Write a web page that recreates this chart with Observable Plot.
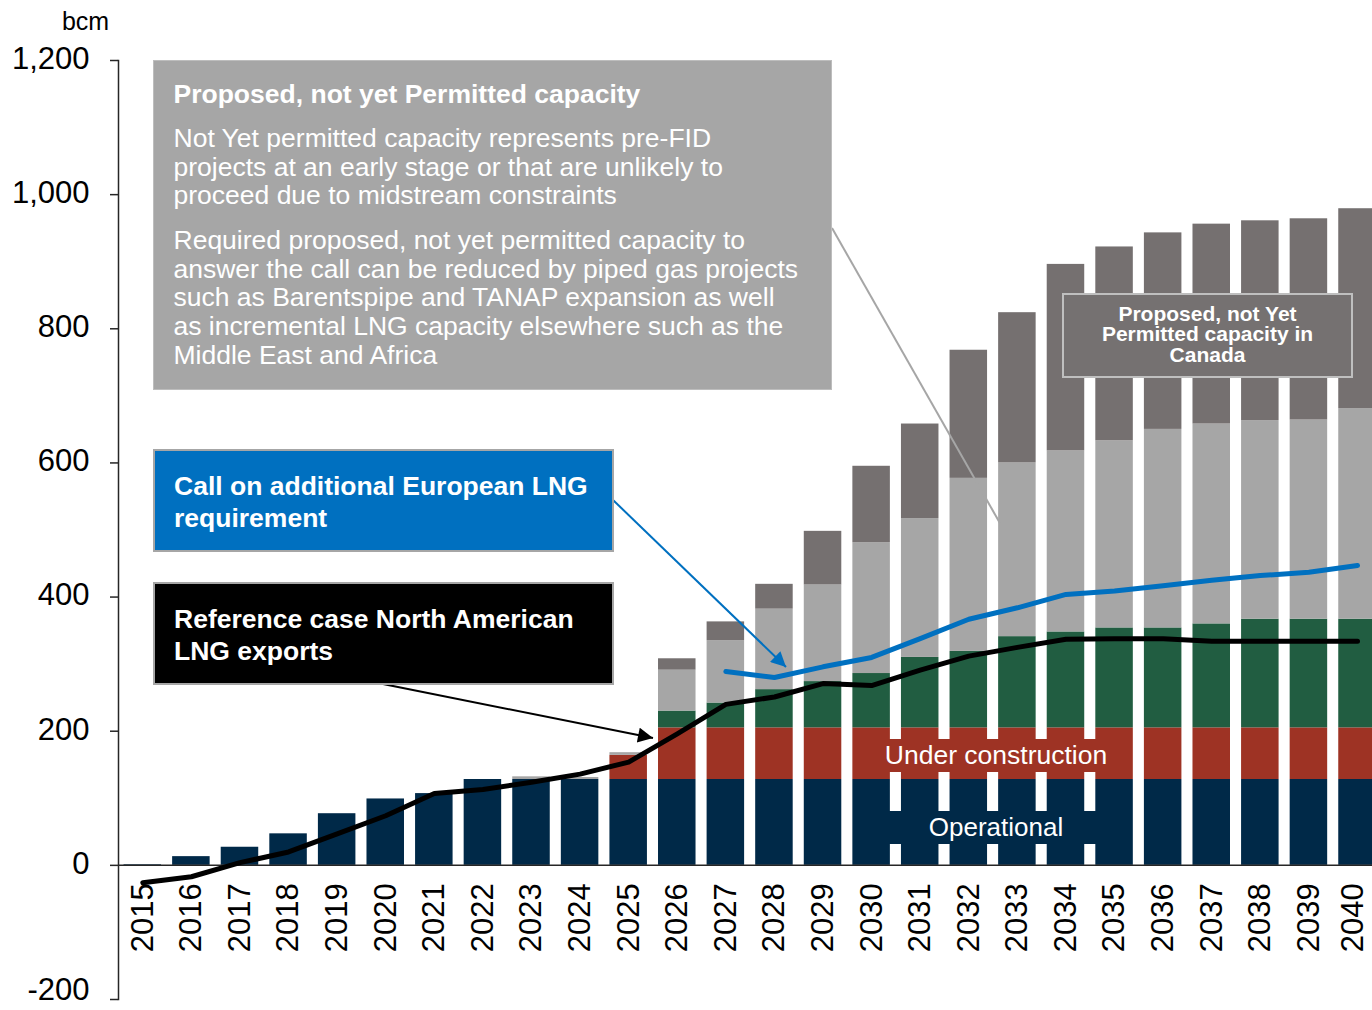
<!DOCTYPE html>
<html>
<head>
<meta charset="utf-8">
<script src="https://cdn.jsdelivr.net/npm/d3@7"></script>
<script src="https://cdn.jsdelivr.net/npm/@observablehq/plot@0.6"></script>
<style>
  html, body { margin: 0; padding: 0; background: #fff; overflow: hidden; }
  #wrap { position: relative; width: 1372px; height: 1010px; font-family: "Liberation Sans", Arial, sans-serif; overflow: hidden; }
  #wrap svg.overlay { position: absolute; left: 0; top: 0; pointer-events: none; }
  .box { position: absolute; box-sizing: border-box; color: #fff; white-space: nowrap; }
  .box .t { position: absolute; }
</style>
</head>
<body>
<div id="wrap"></div>
<script>
// ---------- data (bcm) ----------
const years = [2015, 2016, 2017, 2018, 2019, 2020, 2021, 2022, 2023, 2024, 2025, 2026, 2027,
               2028, 2029, 2030, 2031, 2032, 2033, 2034, 2035, 2036, 2037, 2038, 2039, 2040];
const seriesNames = ["Operational", "Under construction", "Permitted",
                     "Proposed, not yet Permitted", "Proposed, not yet Permitted (Canada)"];
const seriesColors = ["#002948", "#9E3324", "#215D41", "#A6A6A6", "#757070"];

const operational       = [1, 13, 27, 47, 77, 99, 107, 128, 128, 128, 128, 128, 128,
                           128, 128, 128, 128, 128, 128, 128, 128, 128, 128, 128, 128, 128];
const underConstruction = [0, 0, 0, 0, 0, 0, 0, 0, 0, 0, 36, 77, 77,
                           77, 77, 77, 77, 77, 77, 77, 77, 77, 77, 77, 77, 77];
const permitted         = [0, 0, 0, 0, 0, 0, 0, 0, 0, 0, 0, 25, 37,
                           57, 69, 81, 105, 114, 136, 143, 149, 149, 155, 162, 162, 162];
const proposed          = [0, 0, 0, 0, 0, 0, 0, 0, 4, 3, 4, 61, 93,
                           120, 144, 195, 207, 258, 259, 270, 279, 296, 298, 296, 297, 314];
const proposedCanada    = [0, 0, 0, 0, 0, 0, 0, 0, 0, 0, 0, 17, 28,
                           37, 80, 114, 141, 191, 224, 278, 289, 293, 298, 298, 300, 298];

const refExports = [-26, -17, 4, 20, 47, 74, 107, 113, 124, 136, 154, 196, 240,
                    251, 271, 268, 291, 312, 325, 337, 338, 338, 334, 334, 334, 334];
const callYears  = [2027, 2028, 2029, 2030, 2031, 2032, 2033, 2034, 2035, 2036, 2037, 2038, 2039, 2040];
const callValues = [289, 280, 296, 310, 338, 367, 384, 404, 409, 417, 425, 432, 437, 447];

const yTicks = [-200, 0, 200, 400, 600, 800, 1000, 1200];

// ---------- tables built from the arrays ----------
const seriesValues = [operational, underConstruction, permitted, proposed, proposedCanada];
const stacked = [];
years.forEach((yr, i) => {
  seriesNames.forEach((s, k) => stacked.push({year: yr, series: s, value: seriesValues[k][i]}));
});
const refTable  = years.map((yr, i) => ({year: yr, value: refExports[i]}));
const callTable = callYears.map((yr, i) => ({year: yr, value: callValues[i]}));
const lastYear = years[years.length - 1];
const minTick = yTicks[0];

// ---------- chart ----------
const yLabel = (data, dy) => Plot.text(data, {
  y: d => d,
  text: d => d.toLocaleString("en-US"),
  frameAnchor: "left",
  textAnchor: "end",
  dx: -29,
  dy,
  fontSize: 31,
  fill: "#000"
});
const yearLabel = (data, dx) => Plot.text(data, {
  x: d => d, y: 0, text: d => String(d), rotate: -90, textAnchor: "end", dy: 18, dx, fontSize: 31, fill: "#000"
});

const chart = Plot.plot({
  width: 1372,
  height: 1010,
  marginLeft: 118,
  marginRight: 0,
  marginTop: 60,
  marginBottom: 11,
  style: {fontFamily: '"Liberation Sans", Arial, sans-serif', color: "#000", background: "transparent", overflow: "visible"},
  x: {type: "band", domain: years, range: [118, 1381.3], paddingInner: 0.228, paddingOuter: 0.114, round: false, axis: null},
  y: {domain: [-200, 1200], axis: null},
  color: {domain: seriesNames, range: seriesColors},
  marks: [
    Plot.barY(stacked, {x: "year", y: "value", fill: "series", order: seriesNames}),
    Plot.ruleY([0], {stroke: "#262626", strokeWidth: 1.5}),
    Plot.frame({anchor: "left", stroke: "#262626", strokeWidth: 1.5}),
    Plot.axisY({ticks: yTicks, tickSize: 8, text: null, label: null, stroke: "#262626", strokeWidth: 1.5}),
    yLabel(yTicks.filter(d => d !== minTick), -1.5),
    yLabel([minTick], -9),
    Plot.text(["bcm"], {frameAnchor: "top-left", dx: -33, dy: -39, fontSize: 25, textAnchor: "middle", lineAnchor: "middle", fill: "#000"}),
    yearLabel(years.filter(d => d !== lastYear), 0),
    yearLabel([lastYear], -4),
    Plot.line(callTable, {x: "year", y: "value", stroke: "#0070C0", strokeWidth: 5}),
    Plot.line(refTable, {x: "year", y: "value", stroke: "#000", strokeWidth: 5})
  ]
});

const wrap = document.getElementById("wrap");
wrap.appendChild(chart);

// ---------- annotations ----------
const ns = "http://www.w3.org/2000/svg";
const ov = document.createElementNS(ns, "svg");
ov.setAttribute("class", "overlay");
ov.setAttribute("width", 1372);
ov.setAttribute("height", 1010);
ov.innerHTML = `
  <defs>
    <marker id="hb" viewBox="0 0 10 10" refX="10" refY="5" markerWidth="17" markerHeight="15" markerUnits="userSpaceOnUse" orient="auto">
      <path d="M0,0L10,5L0,10z" fill="#0070C0"/>
    </marker>
    <marker id="hk" viewBox="0 0 10 10" refX="10" refY="5" markerWidth="17" markerHeight="15" markerUnits="userSpaceOnUse" orient="auto">
      <path d="M0,0L10,5L0,10z" fill="#000"/>
    </marker>
  </defs>
  <line x1="832" y1="228" x2="1001" y2="525" stroke="#A6A6A6" stroke-width="2"/>
  <line x1="613" y1="500" x2="786" y2="667" stroke="#0070C0" stroke-width="2" marker-end="url(#hb)"/>
  <line x1="383" y1="684" x2="653" y2="738" stroke="#000" stroke-width="2" marker-end="url(#hk)"/>
`;
wrap.appendChild(ov);

function addBox(style, inner) {
  const d = document.createElement("div");
  d.className = "box";
  Object.assign(d.style, style);
  d.innerHTML = inner;
  wrap.appendChild(d);
}

addBox({left: "153px", top: "60px", width: "679px", height: "330px", background: "#A6A6A6", border: "1.5px solid #BDBDBD"},
  `<div class="t" style="left:19.5px;top:17.5px;font-weight:bold;font-size:26.5px;line-height:30px;">Proposed, not yet Permitted capacity</div>
   <div class="t" style="left:19.5px;top:63px;font-size:26.5px;line-height:28.7px;">Not Yet permitted capacity represents pre-FID<br>projects at an early stage or that are unlikely to<br>proceed due to midstream constraints</div>
   <div class="t" style="left:19.5px;top:165px;font-size:26.5px;line-height:28.7px;">Required proposed, not yet permitted capacity to<br>answer the call can be reduced by piped gas projects<br>such as Barentspipe and TANAP expansion as well<br>as incremental LNG capacity elsewhere such as the<br>Middle East and Africa</div>`);

addBox({left: "153px", top: "449px", width: "461px", height: "103px", background: "#0070C0", border: "2px solid #A6A6A6"},
  `<div class="t" style="left:19px;top:19px;font-weight:bold;font-size:26.5px;line-height:32px;">Call on additional European LNG<br>requirement</div>`);

addBox({left: "153px", top: "582px", width: "461px", height: "103px", background: "#000", border: "2px solid #A6A6A6"},
  `<div class="t" style="left:19px;top:19px;font-weight:bold;font-size:26.5px;line-height:32px;">Reference case North American<br>LNG exports</div>`);

addBox({left: "1062px", top: "293px", width: "291px", height: "85px", background: "#757171", border: "2px solid #BFBFBF"},
  `<div class="t" style="left:0;width:100%;top:8.5px;text-align:center;font-weight:bold;font-size:21px;line-height:20.5px;">Proposed, not Yet<br>Permitted capacity in<br>Canada</div>`);

addBox({left: "866px", top: "739px", width: "260px", height: "33px", background: "#9E3324"},
  `<div class="t" style="left:0;width:100%;top:0;text-align:center;font-size:26.5px;line-height:33px;">Under construction</div>`);

addBox({left: "866px", top: "811px", width: "260px", height: "33px", background: "#002948"},
  `<div class="t" style="left:0;width:100%;top:0;text-align:center;font-size:26px;line-height:33px;">Operational</div>`);
</script>
</body>
</html>
